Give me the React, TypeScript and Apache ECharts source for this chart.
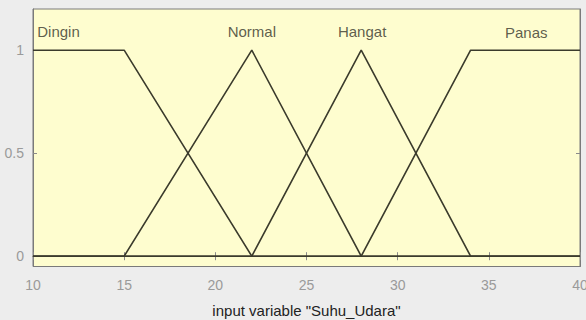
import React, { useEffect, useRef } from "react";
import * as echarts from "echarts";

const dinginX = [10, 15, 22, 40];
const dinginY = [1, 1, 0, 0];
const normalX = [10, 15, 22, 28, 40];
const normalY = [0, 0, 1, 0, 0];
const hangatX = [10, 22, 28, 34, 40];
const hangatY = [0, 0, 1, 0, 0];
const panasX = [10, 28, 34, 40];
const panasY = [0, 0, 1, 1];

const mfNames = ["Dingin", "Normal", "Hangat", "Panas"];
const labelX = [11.4, 22, 28.05, 37.05];
const labelY = [1.09, 1.09, 1.09, 1.085];

const xTicks = [10, 15, 20, 25, 30, 35, 40];
const yTicks = [0, 0.5, 1];

const zip = (xs: number[], ys: number[]) => xs.map((x, i) => [x, ys[i]]);

const LINE = "#3b3b2c";
const FONT = "Liberation Sans, Arial, sans-serif";

export default function App() {
  const ref = useRef<HTMLDivElement>(null);
  useEffect(() => {
    if (!ref.current) return;
    const chart = echarts.init(ref.current, undefined, { renderer: "svg" });
    const mk = (name: string, xs: number[], ys: number[]) => ({
      type: "line",
      name,
      data: zip(xs, ys),
      symbol: "none",
      lineStyle: { color: LINE, width: 1.6 },
      xAxisIndex: 0,
      yAxisIndex: 0,
      z: 3,
    });
    chart.setOption({
      animation: false,
      backgroundColor: "#ededed",
      textStyle: { fontFamily: FONT },
      grid: {
        left: 33,
        right: 6,
        top: 9,
        bottom: 53.5,
        containLabel: false,
        outerBoundsMode: "none",
        show: true,
        backgroundColor: "#fefdcf",
        borderColor: "#7a7a7a",
        borderWidth: 1,
      },
      xAxis: [
        {
          type: "value",
          min: 10,
          max: 40,
          interval: 5,
          name: 'input variable "Suhu_Udara"',
          nameLocation: "middle",
          nameGap: 36,
          nameTextStyle: { color: "#222222", fontSize: 15, fontFamily: FONT },
          axisLine: { show: true, lineStyle: { color: "#7a7a7a" } },
          axisTick: { show: true, inside: true, length: 4, lineStyle: { color: "#8a8a8a" } },
          axisLabel: {
            color: "#9a9a9a",
            fontSize: 14,
            margin: 11,
            fontFamily: FONT,
            customValues: xTicks,
          },
          splitLine: { show: false },
        },
        {
          type: "value",
          position: "top",
          min: 10,
          max: 40,
          interval: 5,
          axisLine: { show: true, lineStyle: { color: "#7a7a7a" } },
          axisTick: { show: true, inside: true, length: 4, lineStyle: { color: "#8a8a8a" } },
          axisLabel: { show: false },
          splitLine: { show: false },
        },
      ],
      yAxis: [
        {
          type: "value",
          min: -0.05,
          max: 1.2,
          axisLine: { show: true, lineStyle: { color: "#7a7a7a" } },
          axisTick: {
            show: true,
            inside: true,
            length: 4,
            lineStyle: { color: "#8a8a8a" },
            customValues: yTicks,
          },
          axisLabel: {
            color: "#9a9a9a",
            fontSize: 14,
            margin: 9,
            fontFamily: FONT,
            customValues: yTicks,
          },
          splitLine: { show: false },
        },
        {
          type: "value",
          position: "right",
          min: -0.05,
          max: 1.2,
          axisLine: { show: true, lineStyle: { color: "#7a7a7a" } },
          axisTick: {
            show: true,
            inside: true,
            length: 4,
            lineStyle: { color: "#8a8a8a" },
            customValues: yTicks,
          },
          axisLabel: { show: false },
          splitLine: { show: false },
        },
      ],
      series: [
        mk("Dingin", dinginX, dinginY),
        mk("Normal", normalX, normalY),
        mk("Hangat", hangatX, hangatY),
        mk("Panas", panasX, panasY),
        {
          type: "scatter",
          symbolSize: 0,
          data: labelX.map((x, i) => ({ value: [x, labelY[i]], name: mfNames[i] })),
          label: {
            show: true,
            position: "inside",
            formatter: (p: any) => p.name,
            color: "#34342a",
            fontSize: 15,
            fontFamily: FONT,
          },
          z: 4,
        },
      ],
    });
    return () => chart.dispose();
  }, []);
  return (
    <div
      ref={ref}
      style={{ position: "fixed", left: 0, top: 0, width: 586, height: 320 }}
    />
  );
}
